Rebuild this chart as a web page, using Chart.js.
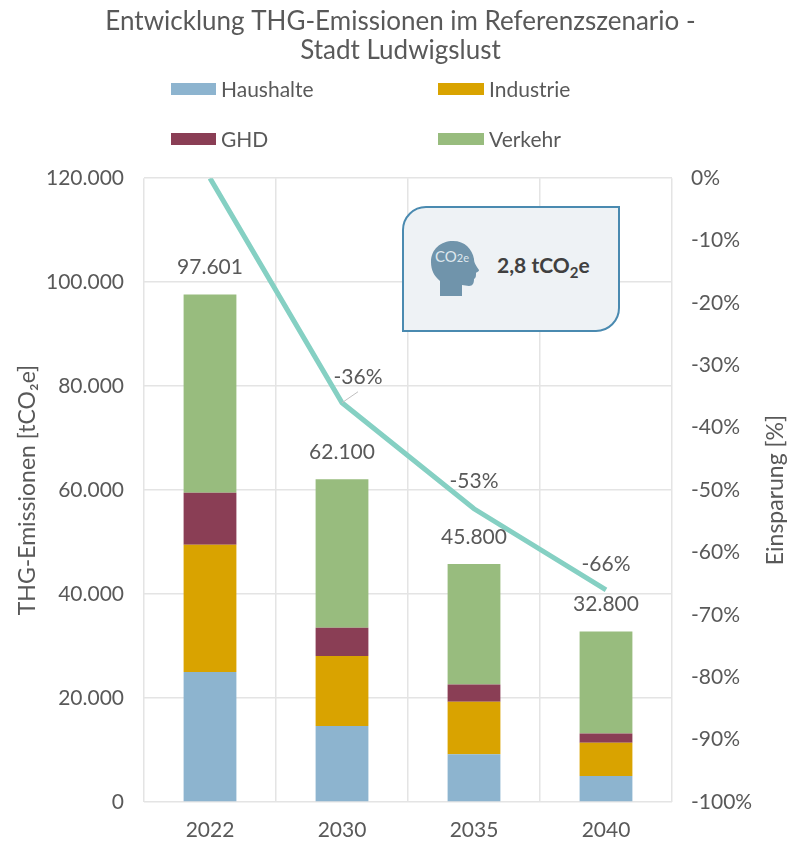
<!DOCTYPE html>
<html lang="de"><head><meta charset="utf-8">
<script src="https://cdn.jsdelivr.net/npm/chart.js@4"></script>
<style>
html,body{margin:0;padding:0;background:#fff;font-family:Lato,sans-serif;overflow:hidden}
#wrap{position:relative;width:787px;height:842px}
#c{position:absolute;left:0;top:0}
.leg{position:absolute;display:flex;align-items:center;height:24px;color:#595959;font-size:21px}
.leg i{display:block;width:45px;height:12px;margin-right:5px}
.leg b{font-weight:400;position:relative;top:-1px}
#card{position:absolute;left:402px;top:206px;width:214px;height:122px;background:#eef2f5;border:2.5px solid #4a8ab0;border-radius:24px 0 24px 0}
#card svg{position:absolute;left:27px;top:31px}
#card span{position:absolute;left:93px;top:44px;font-size:21px;font-weight:700;color:#404040;white-space:nowrap}
#card sub{font-size:15px;line-height:0;vertical-align:-5px}
</style></head><body>
<div id="wrap"><canvas id="c" width="787" height="842"></canvas>
<div id="legend"></div>
<div id="card">
<svg width="50" height="60" viewBox="0 0 50 60"><path fill="#7094ab" d="M9 57V42C3 37 0 31 0 23C0 10 10 2 22 2C34 2 41 10 43 20C43 23 44 25 48 31C48 33 45 33 45 34C45 37 45 39 43 40C43 44 42 47 38 47L31 46V57Z"/><text x="21" y="23" text-anchor="middle" font-family="Lato" font-size="15" fill="#dfe8ee">CO<tspan font-size="11">2e</tspan></text></svg>
<span>2,8 tCO<sub>2</sub>e</span></div>
</div>
<script>
const categories = ['2022','2030','2035','2040'];
const haushalte = [25000,14600,9200,5000];
const industrie = [24500,13500,10100,6400];
const ghd = [10000,5400,3300,1800];
const totals = [97601,62100,45800,32800];
const verkehr = totals.map((t,i)=>t-haushalte[i]-industrie[i]-ghd[i]);
const einsparung = [0,-36,-53,-66];
const einsparungLabels = [null,'-36%','-53%','-66%'];
const titleLines = ['Entwicklung THG-Emissionen im Referenzszenario -','Stadt Ludwigslust'];
const rightAxisTitle = 'Einsparung [%]';
const gray='#595959', gridCol='#e4e4e4';
const fmt = v => String(v).replace(/\B(?=(\d{3})+$)/g,'.');

const labelsPlugin = {
  id:'valueLabels',
  afterDatasetsDraw(chart){
    const {ctx,chartArea,scales:{x,y,y1}}=chart;
    ctx.save();
    ctx.font='21px Lato'; ctx.fillStyle=gray; ctx.textAlign='center'; ctx.textBaseline='middle';
    totals.forEach((t,i)=>ctx.fillText(fmt(t), x.getPixelForValue(i), y.getPixelForValue(t)-27));
    const dx=[0,16,0,0], dy=[0,-26,-28,-26];
    einsparungLabels.forEach((s,i)=>{
      if(!s) return;
      const px=x.getPixelForValue(i), py=y1.getPixelForValue(einsparung[i]);
      ctx.fillStyle=gray;
      ctx.fillText(s, px+dx[i], py+dy[i]);
      if(i===1){ctx.strokeStyle='#bfbfbf';ctx.lineWidth=1;ctx.beginPath();ctx.moveTo(px,py);ctx.lineTo(px+16,py-11);ctx.stroke();}
    });
    // right axis title reads bottom-to-top
    ctx.translate(776,(chartArea.top+chartArea.bottom)/2);
    ctx.rotate(-Math.PI/2);
    ctx.font='23px Lato'; ctx.fillStyle=gray;
    ctx.fillText(rightAxisTitle,0,0);
    ctx.restore();
  }
};

const series=[['Haushalte',haushalte,'#8db4cf'],['Industrie',industrie,'#d9a300'],['GHD',ghd,'#8a3e55'],['Verkehr',verkehr,'#98bc7e']];
const legendPos=[[171,77],[438,77],[171,127],[438,127]];
const legend=document.getElementById('legend');
series.forEach((s,i)=>{
  const d=document.createElement('div');d.className='leg';
  d.style.left=legendPos[i][0]+'px';d.style.top=legendPos[i][1]+'px';
  const sw=document.createElement('i');sw.style.background=s[2];
  if(i%2) sw.style.width='46px';
  const t=document.createElement('b');t.textContent=s[0];
  d.append(sw,t);legend.append(d);
});

new Chart(document.getElementById('c'),{
  data:{labels:categories,datasets:[
    ...series.map(s=>({type:'bar',label:s[0],data:s[1],backgroundColor:s[2],yAxisID:'y',stack:'a',order:2,barPercentage:0.4,categoryPercentage:1})),
    {type:'line',label:'Einsparung',data:einsparung,borderColor:'#85d0c3',borderWidth:5,pointRadius:0,tension:0,yAxisID:'y1',order:1}
  ]},
  plugins:[labelsPlugin],
  options:{
    responsive:false,animation:false,
    layout:{padding:{left:14,right:0,top:0,bottom:0}},
    plugins:{
      legend:{display:false},tooltip:{enabled:false},
      title:{display:true,text:titleLines,color:gray,font:{family:'Lato',size:26,weight:'normal',lineHeight:1.08},padding:{top:8,bottom:114}}
    },
    scales:{
      x:{stacked:true,grid:{color:gridCol,lineWidth:1.5,drawTicks:false},border:{display:false},
        ticks:{color:gray,font:{family:'Lato',size:21},padding:16,maxRotation:0},
        afterFit(s){s.height=40;}},
      y:{stacked:true,position:'left',min:0,max:120000,grid:{color:gridCol,lineWidth:1.5,drawTicks:false},border:{display:false},
        ticks:{stepSize:20000,color:gray,font:{family:'Lato',size:21},padding:20,callback:v=>fmt(v)},
        title:{display:true,text:'THG-Emissionen [tCO₂e]',color:gray,font:{family:'Lato',size:23},padding:0},
        afterFit(s){s.width=130;}},
      y1:{position:'right',min:-100,max:0,grid:{display:false,drawTicks:false},border:{display:false},
        ticks:{stepSize:10,color:gray,font:{family:'Lato',size:21},padding:19,callback:v=>v+'%'},
        afterFit(s){s.width=115;}}
    }
  }
});
</script></body></html>
